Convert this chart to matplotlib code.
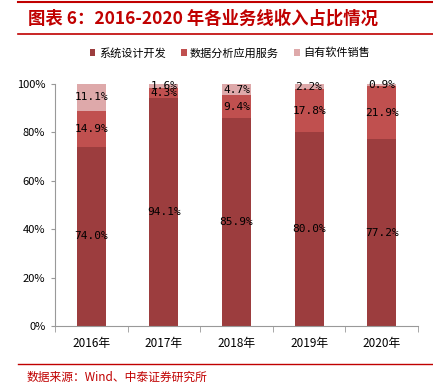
import matplotlib
matplotlib.use("Agg")
import matplotlib.pyplot as plt
import numpy as np

plt.rcParams['font.family'] = ['Noto Sans CJK SC', 'DejaVu Sans']

years = ["2016年", "2017年", "2018年", "2019年", "2020年"]
series_names = ["系统设计开发", "数据分析应用服务", "自有软件销售"]
sys_dev = [74.0, 94.1, 85.9, 80.0, 77.2]
data_svc = [14.9, 4.3, 9.4, 17.8, 21.9]
own_sw = [11.1, 1.6, 4.7, 2.2, 0.9]
colors = ["#9C3D3E", "#C0504F", "#DEA9AA"]
yticks = [0, 20, 40, 60, 80, 100]

W, H = 433, 389
fig = plt.figure(figsize=(W/100, H/100), dpi=100)

ax = fig.add_axes([55/W, 1-326/H, (418-55)/W, (326-84)/H])
x = np.arange(len(years))
bottom = np.zeros(len(years))
for vals, c, name in zip([sys_dev, data_svc, own_sw], colors, series_names):
    vals = np.array(vals)
    ax.bar(x, vals, 0.4, bottom=bottom, color=c, label=name)
    for xi, b, v in zip(x, bottom, vals):
        ax.text(xi, b + v/2, f"{v:.1f}%", ha='center', va='center', fontsize=8,
                family=['DejaVu Sans Mono'], color='black')
    bottom += vals

ax.set_xlim(-0.5, len(years)-0.5)
ax.set_ylim(0, 100)
ax.set_yticks(yticks)
ax.set_yticklabels([f"{t}%" for t in yticks], fontsize=8)
ax.set_xticks(x)
ax.set_xticklabels(years, fontsize=8.5)
ax.set_xticks(np.arange(len(years)+1) - 0.5, minor=True)
ax.tick_params(axis='x', which='major', length=0, pad=8)
ax.tick_params(axis='x', which='minor', length=4, color='#999999', direction='out')
ax.tick_params(axis='y', length=3, color='#999999', pad=4)
for s in ['top', 'right']:
    ax.spines[s].set_visible(False)
for s in ['left', 'bottom']:
    ax.spines[s].set_color('#999999')

leg = ax.legend(loc='center', ncol=3, frameon=False,
          fontsize=8, handlelength=0.5, handleheight=0.5, handletextpad=0.3, columnspacing=1.4)
leg.set_bbox_to_anchor((230/W, 1-53/H), transform=fig.transFigure)

red = "#C00000"
fig.add_artist(plt.Line2D([18/W, 1], [1-2/H, 1-2/H], color=red, lw=1.5, transform=fig.transFigure))
fig.add_artist(plt.Line2D([18/W, 1], [1-34/H, 1-34/H], color=red, lw=1.2, transform=fig.transFigure))
fig.text(28/W, 1-19/H, "图表 6：2016-2020 年各业务线收入占比情况", fontsize=12.5, fontweight='bold',
         color=red, va='center', ha='left')
fig.add_artist(plt.Line2D([18/W, 1], [1-364/H, 1-364/H], color=red, lw=1.0, transform=fig.transFigure))
fig.text(27/W, 1-377/H, "数据来源：Wind、中泰证券研究所", fontsize=8.5, color=red, va='center', ha='left')

fig.savefig("out.png", dpi=100)
